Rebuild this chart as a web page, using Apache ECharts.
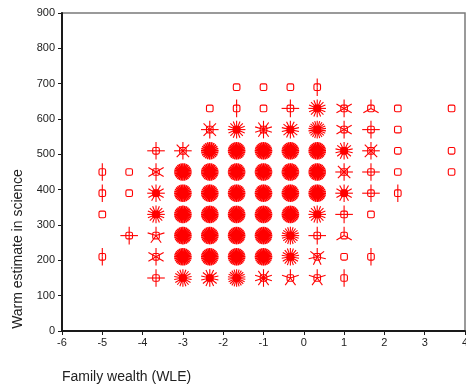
<!DOCTYPE html>
<html>
<head>
<meta charset="utf-8">
<script src="https://cdn.jsdelivr.net/npm/echarts@6/dist/echarts.min.js"></script>
<style>html,body{margin:0;padding:0;background:#fff;}#c{width:466px;height:390px;}</style>
</head>
<body>
<div id="c"></div>
<script>
// Sunflower plot: columns of family wealth, rows of science estimate, petals per cell
const wealth = [-5, -4.333, -3.667, -3, -2.333, -1.667, -1, -0.333, 0.333, 1, 1.667, 2.333, 3.667];
const science = [150, 210, 270, 330, 390, 450, 510, 570, 630, 690];
const _ = null, F = 28;
// petal counts per row (null = no observation, 0 = single marker)
const row150 = [_, _, 4, 18, 14, 22, 10, 5, 5, 2, _, _, _];
const row210 = [2, _, 6, F, F, F, F, 18, 7, 0, 2, _, _];
const row270 = [_, 4, 5, F, F, F, F, 20, 4, 3, _, _, _];
const row330 = [0, _, 16, F, F, F, F, F, 16, 4, 0, _, _];
const row390 = [2, 0, 12, F, F, F, F, F, F, 12, 4, 2, _];
const row450 = [2, 0, 6, F, F, F, F, F, F, 8, 4, 0, 0];
const row510 = [_, _, 4, 8, 24, F, F, F, F, 14, 8, 0, 0];
const row570 = [_, _, _, _, 8, 16, 10, 14, 22, 6, 4, 0, _];
const row630 = [_, _, _, _, 0, 2, 0, 4, 16, 6, 3, 0, 0];
const row690 = [_, _, _, _, _, 0, 0, 0, 2, _, _, _, _];
const rows = [row150, row210, row270, row330, row390, row450, row510, row570, row630, row690];
const xTicks = [-6, -5, -4, -3, -2, -1, 0, 1, 2, 3, 4];
const yTicks = [0, 100, 200, 300, 400, 500, 600, 700, 800, 900];

const data = [];
rows.forEach((r, i) => r.forEach((p, j) => { if (p !== null) data.push([wealth[j], science[i], p]); }));

const RED = '#ff0000';
const chart = echarts.init(document.getElementById('c'), null, {renderer: 'canvas'});
chart.setOption({
  animation: false,
  backgroundColor: '#fff',
  grid: {left: 62, right: 1, top: 13, bottom: 59, containLabel: false, outerBoundsMode: 'none',
    show: true, borderColor: '#7a7a7a', borderWidth: 1.5, backgroundColor: 'transparent'},
  xAxis: {
    type: 'value', min: xTicks[0], max: xTicks[xTicks.length - 1], interval: 1,
    axisLine: {show: true, onZero: false, lineStyle: {color: '#1a1a1a', width: 2}},
    axisTick: {show: true, length: 4, lineStyle: {color: '#1a1a1a', width: 1}},
    axisLabel: {color: '#222', fontSize: 11, fontFamily: 'Liberation Sans, Arial', margin: 6, showMaxLabel: true, showMinLabel: true, hideOverlap: false},
    splitLine: {show: false}
  },
  yAxis: {
    type: 'value', min: yTicks[0], max: yTicks[yTicks.length - 1], interval: 100,
    axisLine: {show: true, onZero: false, lineStyle: {color: '#1a1a1a', width: 2}},
    axisTick: {show: true, length: 4, lineStyle: {color: '#1a1a1a', width: 1}},
    axisLabel: {color: '#222', fontSize: 11, fontFamily: 'Liberation Sans, Arial', margin: 7},
    splitLine: {show: false}
  },
  graphic: [
    {type: 'text', left: 62, top: 370, style: {text: 'Family wealth (WLE)', fill: '#222', font: '14px "Liberation Sans", Arial'}},
    {type: 'text', x: 18, y: 249, rotation: Math.PI / 2, style: {text: 'Warm estimate in science', fill: '#222', font: '14px "Liberation Sans", Arial', textAlign: 'center', textVerticalAlign: 'middle'}}
  ],
  series: [{
    type: 'custom',
    data: data,
    renderItem: function (params, api) {
      const pt = api.coord([api.value(0), api.value(1)]);
      const n = api.value(2);
      const R = 8.8;
      const children = [];
      for (let k = 0; k < n; k++) {
        const a = Math.PI / 2 + k * 2 * Math.PI / n;
        children.push({type: 'line', shape: {x1: pt[0], y1: pt[1], x2: pt[0] + R * Math.cos(a), y2: pt[1] - R * Math.sin(a)},
          style: {stroke: RED, lineWidth: n >= 24 ? 1.6 : 1.1}});
      }
      if (n >= 24) {
        children.push({type: 'circle', shape: {cx: pt[0], cy: pt[1], r: 5.6}, style: {fill: RED}});
      }
      children.push({type: 'rect', shape: {x: pt[0] - 3.3, y: pt[1] - 3.3, width: 6.6, height: 6.6, r: 1.5},
        style: {stroke: RED, fill: n >= 12 ? RED : null, lineWidth: 1.1}});
      return {type: 'group', children: children};
    }
  }]
});
</script>
</body>
</html>
